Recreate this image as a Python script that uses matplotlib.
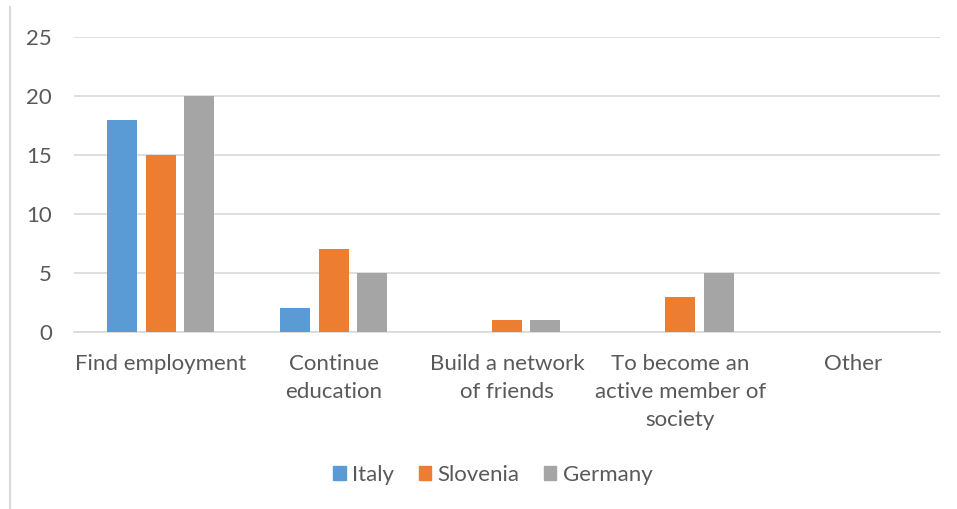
import numpy as np
import matplotlib.pyplot as plt
from matplotlib.lines import Line2D
from matplotlib.patches import Patch

categories = ["Find employment", "Continue\neducation", "Build a network\nof friends",
              "To become an\nactive member of\nsociety", "Other"]
italy = [18, 2, 0, 0, 0]
slovenia = [15, 7, 1, 3, 0]
germany = [20, 5, 1, 5, 0]

plt.rcParams['font.family'] = ['Lato', 'DejaVu Sans']
txt = '#595959'
fs = 16

fig = plt.figure(figsize=(9.57, 5.09), dpi=100)
ax = fig.add_axes([74/957, 1-332/509, 866/957, 295/509])

x = np.arange(len(categories))
w = 0.173
step = 0.222
ax.bar(x - step, italy, w, color='#5b9bd5', label='Italy', zorder=3)
ax.bar(x, slovenia, w, color='#ed7d31', label='Slovenia', zorder=3)
ax.bar(x + step, germany, w, color='#a5a5a5', label='Germany', zorder=3)

ax.set_xlim(-0.5, len(categories) - 0.5)
ax.set_ylim(0, 25)
ax.set_yticks(range(0, 26, 5))
ax.yaxis.grid(True, color='#d9d9d9', linewidth=1.2, zorder=0)
for s in ['top', 'right', 'left']:
    ax.spines[s].set_visible(False)
ax.spines['bottom'].set_color('#d9d9d9')
ax.spines['bottom'].set_linewidth(1.2)
ax.tick_params(axis='both', length=0, colors=txt, labelsize=fs)
ax.tick_params(axis='y', pad=16)
ax.tick_params(axis='x', pad=16)
ax.set_xticks(x)
ax.set_xticklabels(categories, linespacing=1.5, va='top')

handles = [Patch(color='#5b9bd5', label='Italy'),
           Patch(color='#ed7d31', label='Slovenia'),
           Patch(color='#a5a5a5', label='Germany')]
fig.legend(handles=handles, loc='center', bbox_to_anchor=(493/957, 1-475/509), ncol=3,
           frameon=False, fontsize=fs, labelcolor=txt, handlelength=0.55, handleheight=0.55,
           handletextpad=0.3, columnspacing=1.1)

# chart border on the left
fig.add_artist(Line2D([10/957, 10/957], [0, 1-7/509], transform=fig.transFigure,
                      color='#d9d9d9', linewidth=1.5))

fig.savefig('out.png', dpi=100)
